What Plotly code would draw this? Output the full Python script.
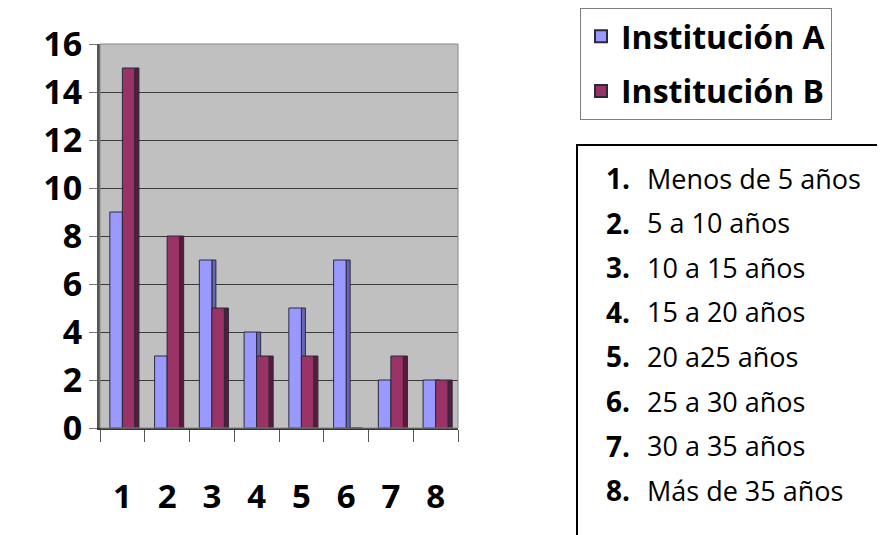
import plotly.graph_objects as go

categories = [1, 2, 3, 4, 5, 6, 7, 8]
inst_a = [9, 3, 7, 4, 5, 7, 2, 2]
inst_b = [15, 8, 5, 3, 3, 0, 3, 2]
y_ticks = [0, 2, 4, 6, 8, 10, 12, 14, 16]
range_labels = [
    "Menos de 5 años", "5 a 10 años", "10 a 15 años", "15 a 20 años",
    "20 a25 años", "25 a 30 años", "30 a 35 años", "Más de 35 años",
]

FONT = "'Open Sans', Lato, sans-serif"
COL_A, SIDE_A = "#9999FF", "#6666B3"
COL_B, SIDE_B = "#993366", "#5A1A3A"
EDGE = "#2a2a3a"

# page body has an 8px margin, so the figure is sized/padded to compensate
PAD = 8
PLOT_L, PLOT_R, PLOT_T, PLOT_B = 100, 458, 44, 428   # screen pixels


def px(x):
    return (x - PLOT_L) / (PLOT_R - PLOT_L)


def py(y):
    return (PLOT_B - y) / (PLOT_B - PLOT_T)


fig = go.Figure()

# side faces (fake 3d depth), drawn behind front faces
fig.add_trace(go.Bar(x=categories, y=inst_a, offset=0.0, width=0.09,
                     marker=dict(color=SIDE_A, line=dict(color=EDGE, width=1)),
                     showlegend=False, hoverinfo="skip"))
fig.add_trace(go.Bar(x=categories, y=inst_a, offset=-0.28, width=0.28,
                     name="Institución A", legendgroup="a",
                     marker=dict(color=COL_A, line=dict(color=EDGE, width=1))))
fig.add_trace(go.Bar(x=categories, y=inst_b, offset=0.0, width=0.28,
                     name="Institución B", legendgroup="b",
                     marker=dict(color=COL_B, line=dict(color=EDGE, width=1))))
fig.add_trace(go.Bar(x=categories, y=inst_b, offset=0.28, width=0.09,
                     marker=dict(color=SIDE_B, line=dict(color=EDGE, width=1)),
                     showlegend=False, hoverinfo="skip"))

fig.update_layout(
    width=885 - PAD, height=535 - PAD,
    barmode="overlay",
    paper_bgcolor="white",
    plot_bgcolor="#C0C0C0",
    margin=dict(l=PLOT_L - PAD, r=885 - PLOT_R, t=PLOT_T - PAD, b=535 - PLOT_B,
                autoexpand=False),
    font=dict(family=FONT, color="black"),
    legend=dict(
        x=px(580), y=py(8), xanchor="left", yanchor="top",
        font=dict(size=32, family=FONT, weight="bold"),
        bordercolor="#808080", borderwidth=1,
        traceorder="grouped", tracegroupgap=10,
        itemsizing="constant",
    ),
)

fig.update_xaxes(
    range=[0.5, 8.5], tickvals=categories,
    ticktext=[str(c) for c in categories],
    tickfont=dict(size=33, family=FONT, weight="bold"),
    ticks="", ticklabelstandoff=39,
    minor=dict(tick0=0.5, dtick=1, ticks="outside", ticklen=12, tickcolor="#555"),
    showline=True, linecolor="#333", linewidth=1.5,
    showgrid=False, zeroline=False, fixedrange=True,
)
fig.update_yaxes(
    range=[0, 16], tickvals=y_ticks,
    tickfont=dict(size=34, family=FONT, weight="bold"),
    ticks="outside", ticklen=8, tickcolor="#777",
    showgrid=True, gridcolor="#3a3a3a", gridwidth=1.2,
    showline=True, linecolor="#555", linewidth=3, mirror=False,
    zeroline=False, fixedrange=True,
)

# right/top border of the plot wall
fig.add_shape(type="rect", xref="paper", yref="paper", x0=0, x1=1, y0=0, y1=1,
              line=dict(color="#888", width=1))

# category key box
fig.add_shape(type="rect", xref="paper", yref="paper",
              x0=px(577), x1=px(895), y0=py(545), y1=py(145),
              line=dict(color="black", width=2))
for i, (num, label) in enumerate(zip(categories, range_labels)):
    ypix = 178 + i * 44.6
    fig.add_annotation(xref="paper", yref="paper",
                       x=px(632), y=py(ypix), xanchor="right", yanchor="middle",
                       text=f"<b>{num}.</b>", showarrow=False,
                       font=dict(size=28, family=FONT))
    fig.add_annotation(xref="paper", yref="paper",
                       x=px(645), y=py(ypix), xanchor="left", yanchor="middle",
                       text=label, showarrow=False,
                       font=dict(size=27, family=FONT))

fig.write_html("out.html")
